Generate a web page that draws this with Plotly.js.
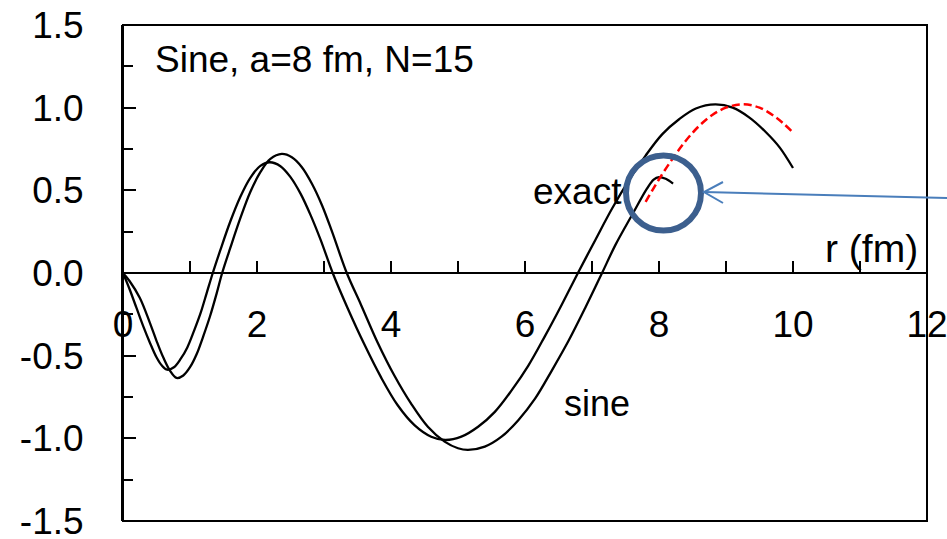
<!DOCTYPE html>
<html>
<head>
<meta charset="utf-8">
<script src="https://cdn.plot.ly/plotly-3.0.1.min.js"></script>
<style>
  html, body { margin: 0; padding: 0; background: #ffffff; }
  #chart { width: 947px; height: 539px; }
</style>
</head>
<body>
<div id="chart"></div>
<script>
// Radial wave functions u(r): exact solution, sine-basis expansion (a = 8 fm, N = 15)
// and the external continuation beyond the channel radius.
const exactR = [0, 0.1, 0.2, 0.3, 0.4, 0.5, 0.58, 0.66, 0.76, 0.86, 0.96, 1.06, 1.16, 1.25, 1.34,
  1.45, 1.6, 1.75, 1.9, 2.05, 2.19, 2.35, 2.5, 2.65, 2.8, 2.95, 3.13,
  3.35, 3.6, 3.85, 4.1, 4.35, 4.6, 4.81, 5.05, 5.3, 5.55, 5.8, 6.05, 6.3, 6.55, 6.79,
  7.05, 7.3, 7.55, 7.8, 8.05, 8.3, 8.55, 8.84, 9.1, 9.35, 9.6, 9.8, 10.0];
const exactU = [0, -0.10, -0.21, -0.32, -0.42, -0.51, -0.56, -0.585, -0.57, -0.52, -0.45, -0.35, -0.24, -0.12, 0,
  0.135, 0.31, 0.46, 0.576, 0.648, 0.67, 0.646, 0.58, 0.48, 0.35, 0.20, 0,
  -0.21, -0.43, -0.63, -0.80, -0.92, -0.99, -1.01, -0.99, -0.93, -0.84, -0.71, -0.56, -0.38, -0.19, 0,
  0.20, 0.39, 0.56, 0.71, 0.84, 0.93, 0.995, 1.02, 1.0, 0.94, 0.85, 0.76, 0.635];

const sineR = [0, 0.1, 0.25, 0.4, 0.5, 0.6, 0.7, 0.8, 0.9, 1.0, 1.1, 1.2, 1.3, 1.4, 1.48,
  1.6, 1.75, 1.9, 2.05, 2.2, 2.37, 2.52, 2.67, 2.82, 2.97, 3.12, 3.34,
  3.55, 3.8, 4.05, 4.3, 4.55, 4.8, 5.0, 5.15, 5.4, 5.65, 5.9, 6.15, 6.4, 6.65, 6.9, 7.15,
  7.35, 7.61, 7.82, 7.92, 8.0, 8.1, 8.21];
const sineU = [0, -0.05, -0.15, -0.30, -0.41, -0.51, -0.59, -0.635, -0.62, -0.57, -0.49, -0.38, -0.26, -0.12, 0,
  0.15, 0.33, 0.49, 0.61, 0.69, 0.72, 0.70, 0.64, 0.54, 0.41, 0.25, 0,
  -0.19, -0.42, -0.62, -0.79, -0.93, -1.02, -1.06, -1.07, -1.05, -0.99, -0.89, -0.76, -0.59, -0.41, -0.21, 0,
  0.17, 0.36, 0.51, 0.565, 0.58, 0.57, 0.54];

const outerR = [7.8, 8.0, 8.2, 8.4, 8.6, 8.8, 9.0, 9.25, 9.5, 9.75, 10.0];
const outerU = [0.43, 0.567, 0.69, 0.80, 0.89, 0.957, 1.0, 1.02, 1.0, 0.94, 0.85];

const xTickVals = [0, 2, 4, 6, 8, 10, 12];
const xTickText = ['0', '2', '4', '6', '8', '10', '12'];
const yTickVals = [-1.5, -1.0, -0.5, 0.0, 0.5, 1.0, 1.5];
const yTickText = ['-1.5', '-1.0', '-0.5', '0.0', '0.5', '1.0', '1.5'];

const FONT = 'Liberation Sans, Arial, Helvetica, sans-serif';

// plot-area geometry in pixels, used to place the call-out arrow
const M = { l: 123, r: 20, t: 25, b: 18 };
const W = 947, H = 539;
const PW = W - M.l - M.r, PH = H - M.t - M.b;
const px = x => (x - M.l) / PW;
const py = y => (H - M.b - y) / PH;

const traces = [
  { x: exactR, y: exactU, name: 'exact', mode: 'lines',
    line: { color: '#000000', width: 2.3, shape: 'spline', smoothing: 1 } },
  { x: sineR, y: sineU, name: 'sine', mode: 'lines',
    line: { color: '#000000', width: 2.3, shape: 'spline', smoothing: 1 } },
  { x: outerR, y: outerU, name: 'external', mode: 'lines',
    line: { color: '#ff0000', width: 2.5, dash: '8px,4px', shape: 'spline', smoothing: 1 } }
];

const tip = [704, 192];
const layout = {
  width: W, height: H,
  margin: M,
  paper_bgcolor: '#ffffff',
  plot_bgcolor: '#ffffff',
  showlegend: false,
  font: { family: FONT, size: 37, color: '#000000' },
  xaxis: {
    range: [0, 12],
    anchor: 'free', position: 0.5,
    tickvals: xTickVals, ticktext: xTickText,
    ticks: 'inside', ticklen: 11, tickwidth: 2, tickcolor: '#000000',
    minor: { dtick: 1, ticks: 'inside', ticklen: 11, tickwidth: 2, tickcolor: '#000000', showgrid: false },
    showline: true, linewidth: 2, linecolor: '#000000',
    showgrid: false, zeroline: false, automargin: false,
    ticklabelstandoff: 19,
    ticklabeloverflow: 'allow',
    tickfont: { family: FONT, size: 37, color: '#000000' }
  },
  yaxis: {
    range: [-1.5, 1.5],
    tickvals: yTickVals, ticktext: yTickText,
    ticks: 'inside', ticklen: 13, tickwidth: 2, tickcolor: '#000000',
    minor: { dtick: 0.25, ticks: 'inside', ticklen: 10, tickwidth: 2, tickcolor: '#000000', showgrid: false },
    showline: true, linewidth: 2, linecolor: '#000000',
    showgrid: false, zeroline: false, automargin: false,
    ticklabelstandoff: 30,
    ticklabeloverflow: 'allow',
    tickfont: { family: FONT, size: 37, color: '#000000' }
  },
  shapes: [
    { type: 'rect', xref: 'paper', yref: 'paper', x0: 0, x1: 1, y0: 0, y1: 1,
      line: { color: '#000000', width: 2 }, layer: 'above' },
    { type: 'circle', xref: 'paper', yref: 'paper',
      xsizemode: 'pixel', ysizemode: 'pixel',
      xanchor: px(663.5), yanchor: py(193),
      x0: -37.5, x1: 37.5, y0: -37.5, y1: 37.5,
      line: { color: '#3c5f8e', width: 6 } },
    { type: 'line', xref: 'paper', yref: 'paper',
      x0: px(965), y0: py(198.5), x1: px(tip[0]), y1: py(tip[1]),
      line: { color: '#4a7ebb', width: 2 } },
    { type: 'path', xref: 'paper', yref: 'paper',
      path: 'M ' + px(723) + ' ' + py(182) + ' L ' + px(tip[0]) + ' ' + py(tip[1]) + ' L ' + px(723) + ' ' + py(203),
      line: { color: '#4a7ebb', width: 2 } }
  ],
  annotations: [
    { text: 'Sine, a=8 fm, N=15', xref: 'x', yref: 'y', x: 0.45, y: 1.29,
      xanchor: 'left', yanchor: 'middle', showarrow: false,
      font: { family: FONT, size: 37, color: '#000000' } },
    { text: 'exact', xref: 'x', yref: 'y', x: 6.78, y: 0.49,
      xanchor: 'center', yanchor: 'middle', showarrow: false,
      font: { family: FONT, size: 37, color: '#000000' } },
    { text: 'sine', xref: 'x', yref: 'y', x: 7.08, y: -0.79,
      xanchor: 'center', yanchor: 'middle', showarrow: false,
      font: { family: FONT, size: 36, color: '#000000' } },
    { text: 'r (fm)', xref: 'x', yref: 'y', x: 11.9, y: 0.15,
      xanchor: 'right', yanchor: 'middle', showarrow: false,
      font: { family: FONT, size: 39, color: '#000000' } }
  ]
};

Plotly.newPlot('chart', traces, layout, { staticPlot: true, displayModeBar: false });
</script>
</body>
</html>
